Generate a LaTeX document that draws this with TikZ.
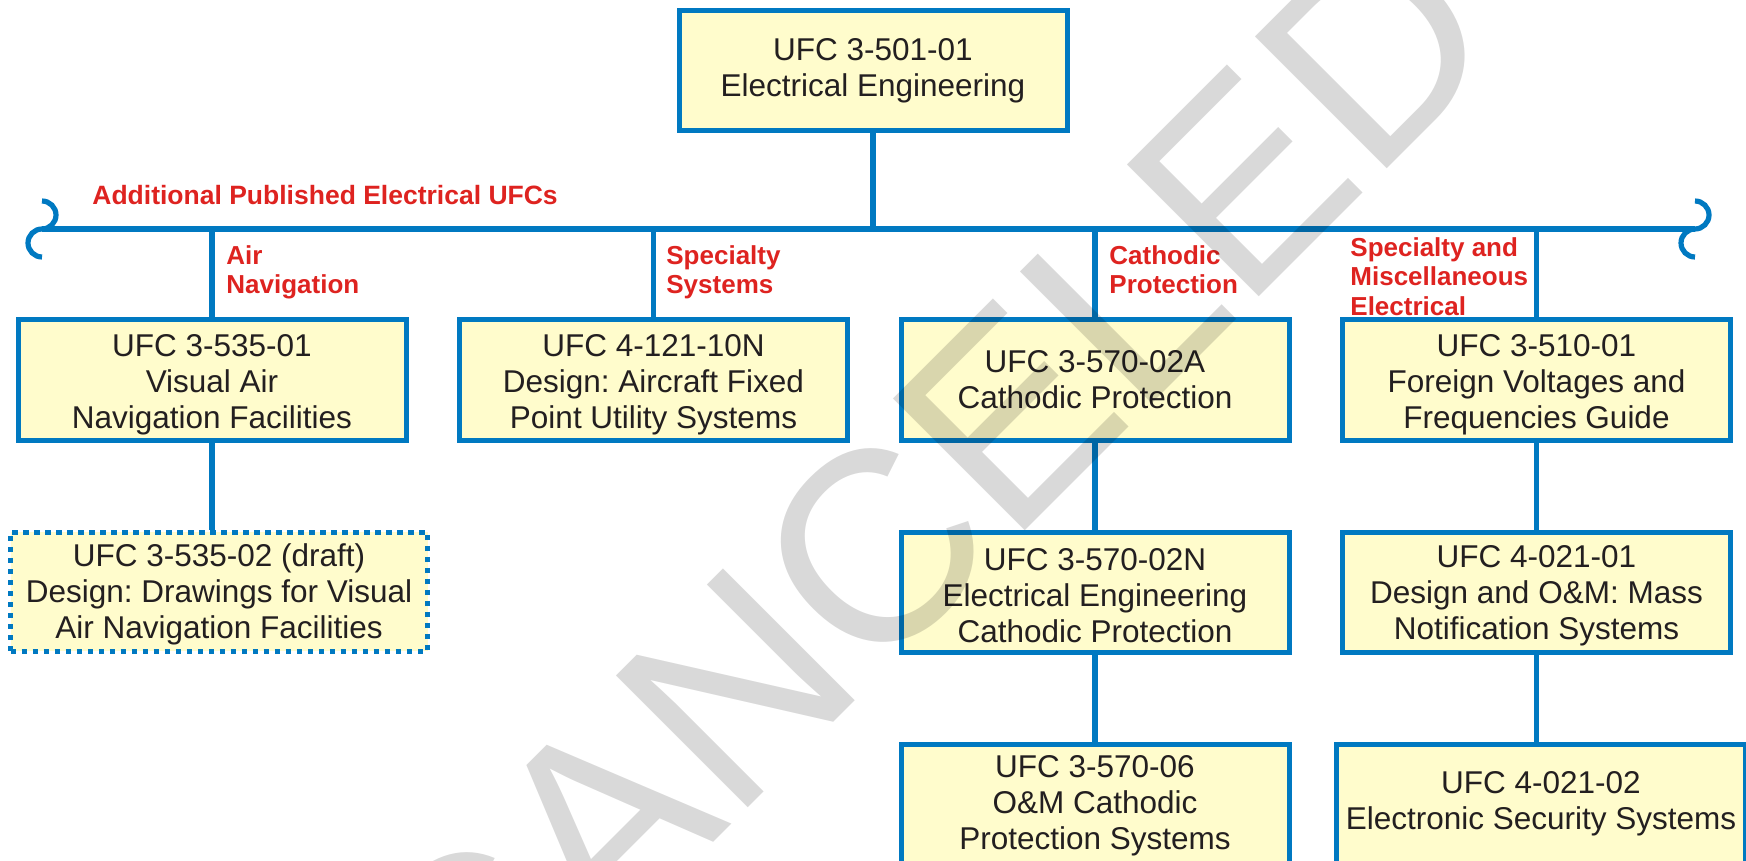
\documentclass[tikz,border=0pt]{standalone}
\usepackage{fontspec}
\setmainfont{Liberation Sans}
\usetikzlibrary{positioning}
\definecolor{ufcblue}{RGB}{0,121,193}
\definecolor{ufcfill}{RGB}{255,252,204}
\definecolor{ufcred}{RGB}{222,35,32}
\definecolor{ufctext}{RGB}{35,31,32}
\newcommand\lift[1]{\rule{0pt}{#1}}
\frenchspacing
\begin{document}
\begin{tikzpicture}[x=0.5pt,y=-0.5pt,node distance=43.5pt,
  ufc/.style={draw=ufcblue,fill=ufcfill,line width=2.5pt,minimum width=194pt,minimum height=60pt,
    align=center,text=ufctext,inner sep=2pt,font=\fontsize{15.75}{18}\selectfont},
  draft/.style={ufc,dash pattern=on 2.6pt off 2.9pt,minimum width=208.5pt,minimum height=59.5pt},
  topic/.style={text=ufcred,inner sep=0pt,align=left,font=\fontsize{13}{14.75}\selectfont\bfseries},
  link/.style={draw=ufcblue,line width=2.6pt}]
  \useasboundingbox (0,0) rectangle (1746,861);
  \clip (0,0) rectangle (1746,861);
  % top of the tree
  \node[ufc] (ee) at (873,70.5) {UFC 3-501-01\\Electrical Engineering};
  \coordinate (barL) at (42,229);
  \coordinate (barR) at (1695,229);
  % red labels, under the boxes
  \node[topic,anchor=base west,font=\fontsize{13.25}{15}\selectfont\bfseries] (addl) at (92,205) {Additional Published Electrical UFCs};
  \node[topic,anchor=north west] (tAir) at (226,245) {Air\\Navigation};
  \node[topic,anchor=north west] (tSpec) at (666,245) {Specialty\\Systems};
  \node[topic,anchor=north west] (tCath) at (1109,245) {Cathodic\\Protection};
  \node[topic,anchor=north west] (tMisc) at (1350,237) {Specialty and\\Miscellaneous\\Electrical};
  % first row
  \node[ufc] (air) at (212,380) {\lift{16pt}UFC 3-535-01\\Visual Air\\Navigation Facilities};
  \node[ufc] (fixed) at (653.5,380) {\lift{16pt}UFC 4-121-10N\\Design: Aircraft Fixed\\Point Utility Systems};
  \node[ufc] (cath) at (1095,380) {UFC 3-570-02A\\Cathodic Protection};
  \node[ufc] (volt) at (1536.5,380) {\lift{16pt}UFC 3-510-01\\Foreign Voltages and\\Frequencies Guide};
  % lower rows
  \node[draft,below=of air,xshift=3.5pt] (drw) {\lift{14.5pt}UFC 3-535-02 (draft)\\Design: Drawings for Visual\\Air Navigation Facilities};
  \node[ufc,below=of cath] (cathN) {\lift{14.5pt}UFC 3-570-02N\\Electrical Engineering\\Cathodic Protection};
  \node[ufc,below=of cathN] (cathOM) {\lift{13pt}UFC 3-570-06\\O\&M Cathodic\\Protection Systems};
  \node[ufc,below=of volt] (mass) {\lift{14.5pt}UFC 4-021-01\\Design and O\&M: Mass\\Notification Systems};
  \node[ufc,below=of mass,xshift=2.25pt,minimum width=204.5pt] (sec) {UFC 4-021-02\\Electronic Security Systems};
  % connectors
  \draw[link] (ee.south) -- (ee.south |- barL);
  \draw[link] (barL) -- (barR);
  \foreach \b in {air,fixed,cath,volt}
    \draw[link] (\b.north) -- (\b.north |- barL);
  \draw[link] (air.south) -- (air.south |- drw.north);
  \draw[link] (cath) -- (cathN);
  \draw[link] (cathN) -- (cathOM);
  \draw[link] (volt) -- (mass);
  \draw[link] (mass.south) -- (mass.south |- sec.north);
  % break marks at the bar ends
  \draw[link] (barL) arc[start angle=-90,end angle=90,radius=7pt];
  \draw[link] (barL) arc[start angle=90,end angle=270,radius=7pt];
  \draw[link] (barR) arc[start angle=-90,end angle=90,radius=7pt];
  \draw[link] (barR) arc[start angle=90,end angle=270,radius=7pt];
  % watermark
  \node[rotate=45,text=black,text opacity=0.15,inner sep=0pt,font=\fontsize{135.5}{138}\selectfont] (stamp) at (922,502) {CANCELED};
\end{tikzpicture}
\end{document}
